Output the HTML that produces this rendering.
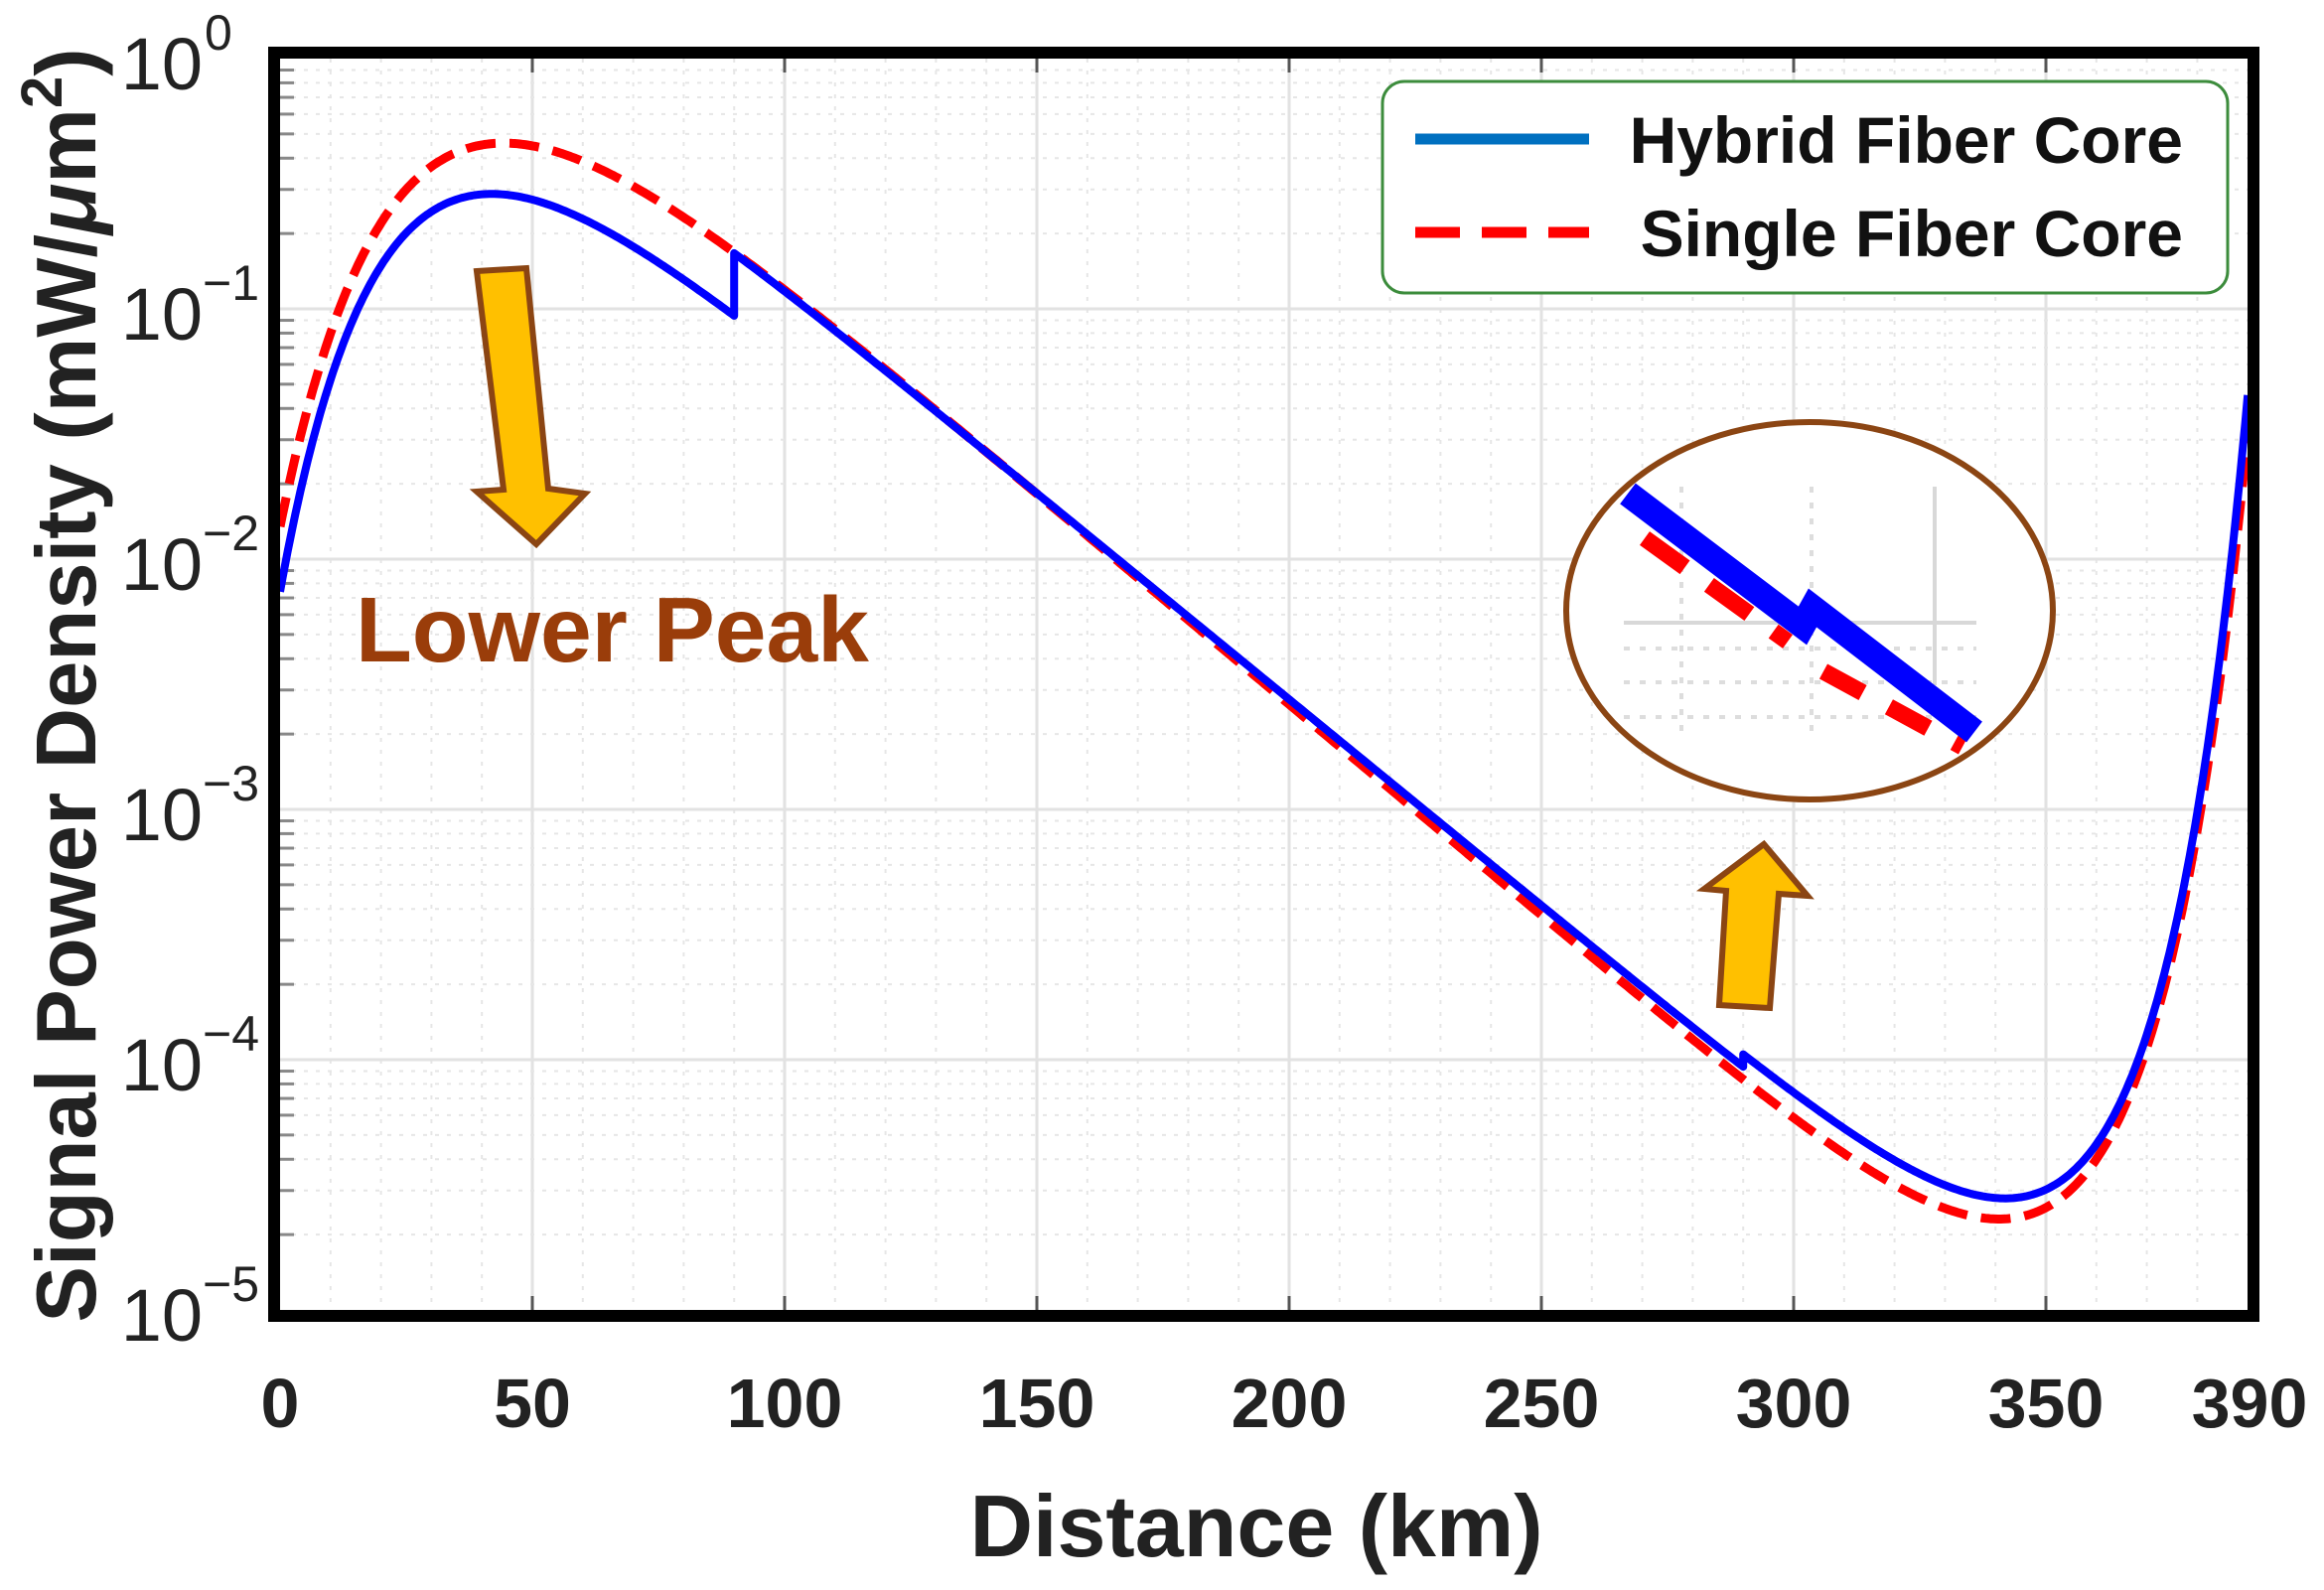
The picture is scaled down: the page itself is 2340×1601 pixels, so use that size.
<!DOCTYPE html>
<html><head><meta charset="utf-8"><style>
html,body{margin:0;padding:0;background:#fff;}
svg{display:block;}
text{font-family:"Liberation Sans",Arial,sans-serif;}
</style></head><body>
<svg id="s" width="2340" height="1601" viewBox="0 0 2340 1601" xmlns="http://www.w3.org/2000/svg">
<rect width="2340" height="1601" fill="#fff"/>
<g id="grid"></g>
<g id="curves"></g>
<rect x="276" y="53" width="1993" height="1272" fill="none" stroke="#000" stroke-width="12"/>
<!-- y tick labels -->
<g font-size="74" fill="#222" text-anchor="end">
<text x="204" y="90">10</text><text x="206" y="50" font-size="50" text-anchor="start">0</text>
<text x="204" y="342">10</text><text x="204" y="302" font-size="50" text-anchor="start">−1</text>
<text x="204" y="594">10</text><text x="204" y="554" font-size="50" text-anchor="start">−2</text>
<text x="204" y="846">10</text><text x="204" y="806" font-size="50" text-anchor="start">−3</text>
<text x="204" y="1098">10</text><text x="204" y="1058" font-size="50" text-anchor="start">−4</text>
<text x="204" y="1350">10</text><text x="204" y="1310" font-size="50" text-anchor="start">−5</text>
</g>
<g font-size="70" font-weight="bold" fill="#222" text-anchor="middle">
<text x="282" y="1437">0</text>
<text x="536" y="1437">50</text>
<text x="790" y="1437">100</text>
<text x="1044" y="1437">150</text>
<text x="1298" y="1437">200</text>
<text x="1552" y="1437">250</text>
<text x="1806" y="1437">300</text>
<text x="2060" y="1437">350</text>
<text x="2265" y="1437">390</text>
</g>
<text x="1265" y="1567" font-size="88" font-weight="bold" fill="#222" text-anchor="middle">Distance (km)</text>
<text transform="translate(96,690) rotate(-90)" font-size="85" font-weight="bold" fill="#222" text-anchor="middle">Signal Power Density (mW/<tspan font-style="italic">μ</tspan>m<tspan font-size="58" dy="-34">2</tspan><tspan dy="34">)</tspan></text>
<!-- legend -->
<rect x="1392" y="82" width="851" height="213" rx="22" fill="#fff" stroke="#3c8c3c" stroke-width="3"/>
<line x1="1425" y1="140" x2="1600" y2="140" stroke="#0070c0" stroke-width="11"/>
<line x1="1425" y1="234" x2="1600" y2="234" stroke="#ff0000" stroke-width="11" stroke-dasharray="45 22"/>
<g font-size="66" font-weight="bold" fill="#111" text-anchor="end">
<text x="2198" y="164">Hybrid Fiber Core</text>
<text x="2198" y="258">Single Fiber Core</text>
</g>
<text x="358" y="666" font-size="93" font-weight="bold" fill="#9a3d0a">Lower Peak</text>
<polygon points="480,273 530,270 552,492 589,497 540,548 480,495 507,493" fill="#ffc000" stroke="#8b4513" stroke-width="6" stroke-linejoin="miter"/>
<polygon points="1776,850 1820,902 1791,900 1782,1015 1731,1012 1738,897 1716,895" fill="#ffc000" stroke="#8b4513" stroke-width="6"/>
<!-- zoom ellipse -->
<ellipse cx="1822" cy="615" rx="245" ry="190" fill="#fff" stroke="#8b4513" stroke-width="6"/>
<g stroke="#d8d8d8" stroke-width="4">
<line x1="1635" y1="627" x2="1990" y2="627"/>
<line x1="1948" y1="490" x2="1948" y2="690"/>
</g>
<g stroke="#ddd" stroke-width="4" stroke-dasharray="6 10">
<line x1="1693" y1="490" x2="1693" y2="740"/>
<line x1="1824" y1="490" x2="1824" y2="740"/>
<line x1="1635" y1="653" x2="1990" y2="653"/>
<line x1="1635" y1="687" x2="1990" y2="687"/>
<line x1="1635" y1="722" x2="1990" y2="722"/>
</g>
<polyline points="1656,542 1800,646" fill="none" stroke="#ff0000" stroke-width="17" stroke-dasharray="50 30"/>
<polyline points="1836,676 1976,752" fill="none" stroke="#ff0000" stroke-width="17" stroke-dasharray="45 30"/>
<polyline points="1639,497 1815,630 1825,612 1988,737" fill="none" stroke="#0000ff" stroke-width="26"/>
</svg>
<script>
(function(){
var NS="http://www.w3.org/2000/svg";
function X(z){return 282+z*5.08;}
function Y(l){return 59-l*252;}
var g=document.getElementById('grid'),c=document.getElementById('curves');
function ln(x1,y1,x2,y2,col,w,da,p){var e=document.createElementNS(NS,'line');e.setAttribute('x1',x1);e.setAttribute('y1',y1);e.setAttribute('x2',x2);e.setAttribute('y2',y2);e.setAttribute('stroke',col);e.setAttribute('stroke-width',w);if(da)e.setAttribute('stroke-dasharray',da);p.appendChild(e);}
for(var z=10;z<390;z+=10){ if(z%50==0) ln(X(z),59,X(z),1319,'#e2e2e2',3,null,g); else ln(X(z),59,X(z),1319,'#e6e6e6',2,'4 8',g);}
for(var d=0;d<5;d++){ for(var m=2;m<=9;m++){var yy=Y(-d-1+Math.log10(m));ln(282,yy,2263,yy,'#e6e6e6',2,'4 8',g);ln(282,yy,296,yy,'#888',3,null,g);}
 if(d>0){ln(282,Y(-d),2263,Y(-d),'#e2e2e2',3,null,g);} }
for(var z=50;z<390;z+=50){ln(X(z),1319,X(z),1305,'#555',3,null,g);ln(X(z),59,X(z),73,'#555',3,null,g);}
function blue(z){var v=-2.13+2.62*(1-Math.exp(-z/20.5))-0.0165*z+4.3*Math.exp(-(390-z)/18);if(z>=90)v+=0.25;if(z>=290)v+=0.05;return v;}
function red(z){return -1.87+2.67*(1-Math.exp(-z/23))-0.0169*z+4.3*Math.exp(-(390-z)/19);}
function path(f,jumps){var s='',first=true;for(var z=0;z<=390;z+=0.5){
 for(var j=0;j<jumps.length;j++){if(Math.abs(z-jumps[j])<0.01){s+=' L'+X(z).toFixed(1)+','+Y(f(z-0.001)).toFixed(1);}}
 s+=(first?'M':' L')+X(z).toFixed(1)+','+Y(f(z)).toFixed(1);first=false;}return s;}
function pth(d,col,w,da){var e=document.createElementNS(NS,'path');e.setAttribute('d',d);e.setAttribute('fill','none');e.setAttribute('stroke',col);e.setAttribute('stroke-width',w);e.setAttribute('stroke-linejoin','round');if(da)e.setAttribute('stroke-dasharray',da);
var cp=document.createElementNS(NS,'clipPath');cp.id='cp';var r=document.createElementNS(NS,'rect');r.setAttribute('x',282);r.setAttribute('y',59);r.setAttribute('width',1981);r.setAttribute('height',1260);cp.appendChild(r);if(!document.getElementById('cp'))c.appendChild(cp);
e.setAttribute('clip-path','url(#cp)');c.appendChild(e);}
pth(path(red,[]),'#ff0000',9,'30 14');
pth(path(blue,[90,290]),'#0000ff',8,null);
})();
</script>
</body></html>
